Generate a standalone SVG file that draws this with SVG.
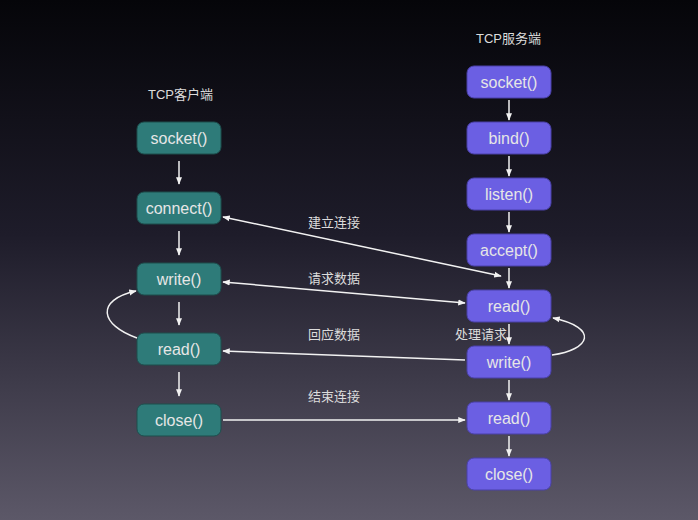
<svg xmlns="http://www.w3.org/2000/svg" width="698" height="520" viewBox="0 0 698 520">
<defs>
<linearGradient id="bg" x1="0" y1="0" x2="0" y2="1"><stop offset="0" stop-color="#050509"/><stop offset="0.45" stop-color="#1e1c2a"/><stop offset="1" stop-color="#5c5868"/></linearGradient>
<marker id="a" viewBox="0 0 10 10" refX="9" refY="5" markerWidth="5" markerHeight="5" orient="auto-start-reverse"><path d="M0,1 L10,5 L0,9 z" fill="#f2f2f2"/></marker>
<style>
.c rect{fill:#2e7b79;stroke:#1d4e4d;stroke-width:1}
.s rect{fill:#6b5fe3;stroke:#4a41a8;stroke-width:1}
.n text{font-family:"Liberation Sans",Arial,sans-serif;font-size:16px;fill:#e6e6e6;text-anchor:middle}
.l{font-family:"Liberation Sans","Noto Sans CJK SC",sans-serif;font-size:13px;fill:#dcdcdc}
#conn path{stroke:#f2f2f2;stroke-width:1.5;fill:none}
</style>
</defs>
<rect width="698" height="520" fill="url(#bg)"/>
<text class="l" x="148" y="99">TCP客户端</text>
<text class="l" x="476" y="43">TCP服务端</text>
<g class="n c">
<g id="c1"><rect x="137" y="122" width="84" height="32" rx="7"/><text x="179" y="144">socket()</text></g>
<g id="c2"><rect x="137" y="192" width="84" height="32" rx="7"/><text x="179" y="214">connect()</text></g>
<g id="c3"><rect x="137" y="263" width="84" height="32" rx="7"/><text x="179" y="285">write()</text></g>
<g id="c4"><rect x="137" y="333" width="84" height="32" rx="7"/><text x="179" y="355">read()</text></g>
<g id="c5"><rect x="137" y="404" width="84" height="32" rx="7"/><text x="179" y="426">close()</text></g>
</g>
<g class="n s">
<g id="s1"><rect x="467" y="66" width="84" height="32" rx="7"/><text x="509" y="88">socket()</text></g>
<g id="s2"><rect x="467" y="122" width="84" height="32" rx="7"/><text x="509" y="144">bind()</text></g>
<g id="s3"><rect x="467" y="178" width="84" height="32" rx="7"/><text x="509" y="200">listen()</text></g>
<g id="s4"><rect x="467" y="234" width="84" height="32" rx="7"/><text x="509" y="256">accept()</text></g>
<g id="s5"><rect x="467" y="290" width="84" height="32" rx="7"/><text x="509" y="312">read()</text></g>
<g id="s6"><rect x="467" y="346" width="84" height="32" rx="7"/><text x="509" y="368">write()</text></g>
<g id="s7"><rect x="467" y="402" width="84" height="32" rx="7"/><text x="509" y="424">read()</text></g>
<g id="s8"><rect x="467" y="458" width="84" height="32" rx="7"/><text x="509" y="480">close()</text></g>
</g>
<g id="conn">
<path d="M179,161 V184" marker-end="url(#a)"/>
<path d="M179,231 V255" marker-end="url(#a)"/>
<path d="M179,302 V325" marker-end="url(#a)"/>
<path d="M179,372 V396" marker-end="url(#a)"/>
<path d="M509,100 V120" marker-end="url(#a)"/>
<path d="M509,156 V176" marker-end="url(#a)"/>
<path d="M509,212 V232" marker-end="url(#a)"/>
<path d="M509,268 V288" marker-end="url(#a)"/>
<path d="M509,324 V344" marker-end="url(#a)"/>
<path d="M509,380 V400" marker-end="url(#a)"/>
<path d="M509,436 V456" marker-end="url(#a)"/>
<path d="M223,217 L501,276" marker-start="url(#a)" marker-end="url(#a)"/>
<path d="M223,282 L465,303" marker-start="url(#a)" marker-end="url(#a)"/>
<path d="M465,360 L223,351" marker-end="url(#a)"/>
<path d="M223,420 L465,420" marker-end="url(#a)"/>
<path d="M137,338 C100,325 95,300 136,291" marker-end="url(#a)"/>
<path d="M552,355 C590,350 600,328 553,318" marker-end="url(#a)"/>
</g>
<text class="l" x="308" y="227">建立连接</text>
<text class="l" x="308" y="283">请求数据</text>
<text class="l" x="308" y="339">回应数据</text>
<text class="l" x="455" y="339">处理请求</text>
<text class="l" x="308" y="401">结束连接</text>
</svg>
